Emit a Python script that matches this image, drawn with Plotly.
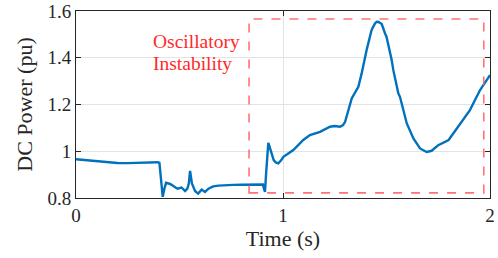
import plotly.graph_objects as go

# Time (s)
time_s = [0.00, 0.05, 0.10, 0.15, 0.20, 0.25, 0.30, 0.35, 0.395, 0.403, 0.411, 0.419,
          0.427, 0.435, 0.455, 0.47, 0.49, 0.51, 0.527, 0.538, 0.545, 0.551, 0.556,
          0.56, 0.575, 0.59, 0.607, 0.623, 0.64, 0.663, 0.688, 0.72, 0.76, 0.80,
          0.84, 0.88, 0.903, 0.908, 0.913, 0.918, 0.924, 0.929, 0.935, 0.945, 0.955,
          0.965, 0.977, 0.99, 1.002, 1.05, 1.098, 1.13, 1.179, 1.227, 1.25, 1.275,
          1.29, 1.30, 1.316, 1.332, 1.364, 1.38, 1.404, 1.428, 1.445, 1.453, 1.462,
          1.47, 1.477, 1.493, 1.50, 1.525, 1.533, 1.557, 1.565, 1.598, 1.63, 1.662,
          1.694, 1.718, 1.75, 1.80, 1.855, 1.903, 1.952, 2.0]
# DC power (pu)
dc_power = [0.966, 0.962, 0.957, 0.952, 0.950, 0.949, 0.951, 0.952, 0.953, 0.950, 0.88, 0.805,
            0.84, 0.865, 0.86, 0.85, 0.84, 0.845, 0.83, 0.84, 0.862, 0.916, 0.89,
            0.862, 0.83, 0.819, 0.836, 0.826, 0.84, 0.85, 0.853, 0.853, 0.856, 0.857,
            0.858, 0.858, 0.858, 0.84, 0.826, 0.90, 0.99, 1.036, 1.02, 0.985, 0.962,
            0.952, 0.948, 0.960, 0.976, 1.005, 1.048, 1.069, 1.083, 1.105, 1.108, 1.105,
            1.112, 1.126, 1.176, 1.226, 1.276, 1.333, 1.433, 1.519, 1.548, 1.554, 1.553,
            1.549, 1.544, 1.504, 1.49, 1.39, 1.347, 1.248, 1.233, 1.119, 1.055, 1.012,
            0.997, 1.002, 1.026, 1.048, 1.119, 1.176, 1.262, 1.326]

x_ticks = [0, 1, 2]
x_tick_labels = ["0", "1", "2"]
y_ticks = [0.8, 1.0, 1.2, 1.4, 1.6]
y_tick_labels = ["0.8", "1", "1.2", "1.4", "1.6"]

box_x = [0.836, 1.97]
box_y = [0.822, 1.566]

font_family = "Liberation Serif"
axis_color = "#262626"

fig = go.Figure()
fig.add_trace(go.Scatter(x=time_s, y=dc_power, mode="lines",
                         line=dict(color="#0072BD", width=2.4),
                         showlegend=False, hoverinfo="skip"))

fig.add_shape(type="rect", xref="x", yref="y",
              x0=box_x[0], x1=box_x[1], y0=box_y[0], y1=box_y[1],
              line=dict(color="rgba(255,90,90,0.85)", width=1.6, dash="dash"))

fig.add_annotation(x=0.36, y=1.47, xref="x", yref="y", text="Oscillatory",
                   showarrow=False, xanchor="left", yanchor="middle",
                   font=dict(family=font_family, size=19.5, color="#ff2a2a"))
fig.add_annotation(x=0.36, y=1.375, xref="x", yref="y", text="Instability",
                   showarrow=False, xanchor="left", yanchor="middle",
                   font=dict(family=font_family, size=19.5, color="#ff2a2a"))

axis_common = dict(showline=True, mirror="ticks", linecolor=axis_color, linewidth=1,
                   ticks="inside", ticklen=5, tickcolor=axis_color,
                   showgrid=True, gridcolor="#e3e3e3", gridwidth=1, zeroline=False,
                   automargin=False,
                   tickfont=dict(family=font_family, size=19, color=axis_color))

fig.update_xaxes(range=[0, 2], tickvals=x_ticks, ticktext=x_tick_labels,
                 title=dict(text="Time (s)", font=dict(family=font_family, size=22, color=axis_color),
                            standoff=4),
                 **axis_common)
fig.update_yaxes(range=[0.8, 1.6], tickvals=y_ticks, ticktext=y_tick_labels,
                 title=dict(text="DC Power (pu)", font=dict(family=font_family, size=22, color=axis_color),
                            standoff=8),
                 **axis_common)

fig.update_layout(width=498, height=258, margin=dict(l=76, r=8, t=11, b=60),
                  paper_bgcolor="white", plot_bgcolor="white")

fig.write_html("out.html", config={"displayModeBar": False},
               post_script="document.body.style.margin='0';")
